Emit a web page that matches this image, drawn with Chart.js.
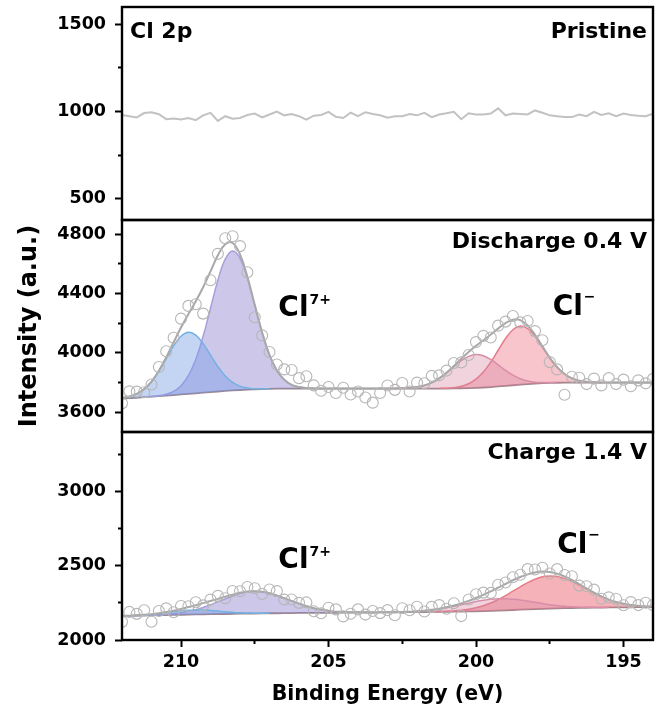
<!DOCTYPE html>
<html>
<head>
<meta charset="utf-8">
<script src="https://cdn.jsdelivr.net/npm/chart.js@4.4.1/dist/chart.umd.min.js"></script>
<style>
  body { margin: 0; background: #fff; }
  #wrap { position: relative; width: 655px; height: 713px; }
  #wrap canvas { position: absolute; left: 0; top: 0; }
</style>
</head>
<body>
<div id="wrap">
  <canvas id="pristineChart" width="655" height="713"></canvas>
  <canvas id="dischargeChart" width="655" height="713"></canvas>
  <canvas id="chargeChart" width="655" height="713"></canvas>
</div>
<script>
// binding energy grid (eV), every trace is sampled on it
const energy = [
  212, 211.75, 211.5, 211.25, 211, 210.75, 210.5, 210.25, 210, 209.75, 209.5, 209.25,
  209, 208.75, 208.5, 208.25, 208, 207.75, 207.5, 207.25, 207, 206.75, 206.5, 206.25,
  206, 205.75, 205.5, 205.25, 205, 204.75, 204.5, 204.25, 204, 203.75, 203.5, 203.25,
  203, 202.75, 202.5, 202.25, 202, 201.75, 201.5, 201.25, 201, 200.75, 200.5, 200.25,
  200, 199.75, 199.5, 199.25, 199, 198.75, 198.5, 198.25, 198, 197.75, 197.5, 197.25,
  197, 196.75, 196.5, 196.25, 196, 195.75, 195.5, 195.25, 195, 194.75, 194.5, 194.25,
  194
];

// Pristine
const pristine = [
  980, 973, 966, 991, 996, 984, 956, 960, 954, 963, 950, 978,
  992, 946, 973, 958, 963, 980, 988, 966, 983, 1000, 978, 986,
  973, 953, 976, 980, 998, 970, 963, 993, 973, 996, 986, 978,
  964, 973, 973, 986, 978, 992, 968, 983, 990, 998, 956, 990,
  983, 983, 988, 1018, 978, 988, 986, 983, 1006, 993, 978, 973,
  968, 968, 983, 973, 998, 980, 990, 973, 988, 980, 976, 973,
  988
];

// Discharge 0.4 V
const disRaw = [
  3660, 3741, 3739, 3735, 3787, 3905, 4011, 4102, 4231, 4317, 4328, 4265,
  4490, 4668, 4773, 4786, 4720, 4544, 4240, 4118, 4006, 3922, 3889, 3885,
  3830, 3843, 3781, 3745, 3770, 3730, 3765, 3720, 3740, 3700, 3665, 3730,
  3780, 3751, 3797, 3740, 3800, 3796, 3845, 3849, 3881, 3932, 3936, 3986,
  4073, 4115, 4104, 4184, 4211, 4249, 4206, 4215, 4147, 4085, 3938, 3889,
  3718, 3839, 3833, 3790, 3827, 3781, 3830, 3790, 3820, 3775, 3815, 3795,
  3825
];
const disEnv = [
  3696, 3706, 3724, 3756, 3807, 3880, 3971, 4072, 4171, 4262, 4348, 4443,
  4550, 4658, 4733, 4741, 4664, 4514, 4324, 4138, 3986, 3882, 3819, 3785,
  3770, 3763, 3761, 3760, 3760, 3760, 3760, 3760, 3760, 3760, 3760, 3760,
  3760, 3761, 3762, 3765, 3770, 3781, 3800, 3829, 3866, 3912, 3961, 4006,
  4048, 4085, 4124, 4164, 4201, 4224, 4221, 4185, 4122, 4045, 3968, 3904,
  3858, 3829, 3813, 3805, 3802, 3801, 3800, 3800, 3800, 3800, 3800, 3800,
  3800
];
const disBg = [
  3692, 3695, 3698, 3702, 3705, 3709, 3712, 3716, 3720, 3724, 3728, 3732,
  3736, 3740, 3744, 3747, 3750, 3753, 3755, 3757, 3758, 3759, 3760, 3760,
  3760, 3760, 3760, 3760, 3760, 3760, 3760, 3760, 3760, 3760, 3760, 3760,
  3760, 3760, 3760, 3760, 3760, 3760, 3760, 3760, 3760, 3761, 3762, 3763,
  3765, 3767, 3770, 3774, 3778, 3782, 3786, 3790, 3793, 3796, 3798, 3799,
  3800, 3800, 3800, 3800, 3800, 3800, 3800, 3800, 3800, 3800, 3800, 3800,
  3800
];
// fitted components: values + first energy of each
const disCl7a = [3696, 3706, 3724, 3756, 3806, 3877, 3961, 4047, 4112, 4139, 4120, 4063,
  3985, 3908, 3845, 3801, 3776, 3764, 3759, 3758, 3758];
const disCl7aFrom = 212;
const disCl7b = [3702, 3706, 3712, 3722, 3741, 3779, 3847, 3956, 4112, 4301, 4490, 4632,
  4687, 4638, 4503, 4320, 4137, 3986, 3882, 3819, 3785, 3770, 3763, 3761, 3760];
const disCl7bFrom = 211.25;
const disClA = [3761, 3762, 3765, 3770, 3781, 3800, 3828, 3864, 3907, 3948, 3977, 3990,
  3981, 3956, 3920, 3882, 3850, 3826, 3811, 3803, 3801, 3800, 3800];
const disClAFrom = 202.75;
const disClB = [3761, 3762, 3766, 3775, 3792, 3823, 3871, 3938, 4018, 4097, 4156, 4181,
  4164, 4112, 4040, 3966, 3903, 3858, 3829, 3813, 3805, 3802, 3801];
const disClBFrom = 201.25;

// Charge 1.4 V
const chaRaw = [
  2122, 2189, 2176, 2200, 2123, 2195, 2213, 2187, 2229, 2227, 2254, 2233,
  2272, 2297, 2281, 2330, 2328, 2357, 2348, 2310, 2340, 2329, 2272, 2273,
  2250, 2253, 2194, 2180, 2217, 2206, 2159, 2177, 2206, 2171, 2195, 2181,
  2201, 2167, 2214, 2200, 2224, 2192, 2223, 2235, 2210, 2247, 2161, 2273,
  2308, 2319, 2317, 2372, 2387, 2422, 2439, 2477, 2475, 2486, 2448, 2477,
  2438, 2429, 2366, 2362, 2339, 2278, 2287, 2276, 2234, 2255, 2235, 2251,
  2235
];
const chaEnv = [
  2162, 2164, 2166, 2170, 2173, 2180, 2188, 2197, 2209, 2222, 2234, 2248,
  2262, 2277, 2291, 2305, 2318, 2327, 2328, 2325, 2315, 2299, 2282, 2263,
  2245, 2228, 2214, 2205, 2197, 2191, 2189, 2187, 2186, 2186, 2185, 2186,
  2186, 2187, 2189, 2190, 2194, 2197, 2203, 2210, 2220, 2232, 2246, 2263,
  2283, 2304, 2327, 2352, 2377, 2402, 2424, 2442, 2455, 2461, 2458, 2447,
  2428, 2404, 2376, 2347, 2319, 2293, 2272, 2256, 2244, 2235, 2230, 2226,
  2225
];
const chaBg = [
  2162, 2163, 2164, 2165, 2166, 2167, 2168, 2169, 2170, 2171, 2172, 2173,
  2174, 2175, 2175, 2176, 2177, 2178, 2178, 2179, 2180, 2180, 2181, 2181,
  2182, 2182, 2182, 2183, 2183, 2183, 2184, 2184, 2185, 2185, 2185, 2186,
  2186, 2186, 2187, 2187, 2188, 2188, 2189, 2189, 2190, 2191, 2191, 2192,
  2193, 2194, 2196, 2198, 2200, 2202, 2204, 2206, 2208, 2210, 2211, 2213,
  2214, 2215, 2216, 2217, 2218, 2218, 2219, 2219, 2220, 2220, 2221, 2221,
  2222
];
const chaCl7a = [2162, 2164, 2166, 2169, 2172, 2177, 2183, 2189, 2195, 2200, 2202, 2202,
  2199, 2195, 2190, 2186, 2183, 2182, 2180, 2180, 2180];
const chaCl7aFrom = 212;
const chaCl7b = [2163, 2164, 2166, 2167, 2170, 2173, 2177, 2184, 2193, 2204, 2219, 2237,
  2257, 2276, 2295, 2312, 2323, 2326, 2324, 2315, 2299, 2282, 2263, 2245, 2228, 2214,
  2205, 2197, 2191, 2189, 2187, 2186, 2186, 2185];
const chaCl7bFrom = 211.75;
const chaClA = [2186, 2187, 2189, 2190, 2194, 2197, 2202, 2208, 2217, 2227, 2237, 2248,
  2259, 2267, 2274, 2278, 2278, 2275, 2270, 2262, 2254, 2246, 2238, 2232, 2227, 2224,
  2222, 2220, 2220, 2219, 2219];
const chaClAFrom = 203;
const chaClB = [2190, 2191, 2193, 2196, 2200, 2207, 2217, 2231, 2249, 2272, 2299, 2329,
  2358, 2386, 2409, 2425, 2431, 2428, 2415, 2395, 2370, 2344, 2317, 2292, 2272, 2256,
  2244, 2235, 2230, 2226, 2225];
const chaClBFrom = 201.5;

// axis ticks (every other one carries a label)
const xTicks = [195, 197.5, 200, 202.5, 205, 207.5, 210];
const xLabelStep = 5;
const yPristine = { min: 377, max: 1600, ticks: [500, 750, 1000, 1250, 1500], label: 500 };
const yDischarge = { min: 3467, max: 4896, ticks: [3600, 3800, 4000, 4200, 4400, 4600, 4800], label: 400 };
const yCharge = { min: 2000, max: 3400, ticks: [2000, 2250, 2500, 2750, 3000, 3250], label: 500 };

// ---- styles ----
const FONT = 'DejaVu Sans';
const tickFont = { family: FONT, size: 17.5, weight: 'bold' };
const blue = { line: '#72b2e2', fill: 'rgba(115,155,228,0.42)' };
const purple = { line: '#a79fdc', fill: 'rgba(135,125,205,0.42)' };
const rose = { line: '#d98ea8', fill: 'rgba(215,130,160,0.35)' };
const red = { line: '#e57d89', fill: 'rgba(235,110,125,0.40)' };
const redStrong = { line: '#e57d89', fill: 'rgba(235,110,120,0.52)' };

function pts(values, fromE) {
  const start = fromE === undefined ? 0 : energy.indexOf(fromE);
  return values.map((v, i) => ({ x: energy[start + i], y: v }));
}

function fitDatasets(raw, env, bg, peaks) {
  const ds = [];
  const bgIndex = 2 + peaks.length;
  ds.push({ data: pts(raw), showLine: false, pointRadius: 5.5, pointBorderWidth: 1.1,
    pointBorderColor: '#b6b6b6', pointBackgroundColor: 'rgba(255,255,255,0)' });
  ds.push({ data: pts(env), borderColor: '#a8a8a8', borderWidth: 2, pointRadius: 0, tension: 0.4 });
  peaks.forEach(p => {
    ds.push({ data: pts(p.values, p.from), borderColor: p.style.line, backgroundColor: p.style.fill,
      fill: bgIndex, borderWidth: 1.5, pointRadius: 0, tension: 0.4 });
  });
  ds.push({ data: pts(bg), borderColor: '#9b8990', borderWidth: 1.8, pointRadius: 0, tension: 0 });
  return ds;
}

// frame, panel captions and species labels
const panelText = {
  id: 'panelText',
  afterDatasetsDraw(chart, args, opts) {
    const ctx = chart.ctx, a = chart.chartArea;
    ctx.save();
    ctx.strokeStyle = '#000';
    ctx.lineWidth = 2.4;
    ctx.strokeRect(a.left, a.top, a.right - a.left, a.bottom - a.top);
    ctx.fillStyle = '#000';
    ctx.textBaseline = 'alphabetic';
    ctx.font = 'bold 22px "' + FONT + '"';
    (opts.corner || []).forEach(l => {
      ctx.textAlign = l.side;
      ctx.fillText(l.text, l.side === 'left' ? a.left + 8 : a.right - 6, a.top + l.dy);
    });
    ctx.textAlign = 'left';
    (opts.species || []).forEach(l => {
      const x = chart.scales.x.getPixelForValue(l.e);
      const y = chart.scales.y.getPixelForValue(l.v);
      ctx.font = 'bold 28px "' + FONT + '"';
      ctx.fillText('Cl', x, y);
      const w = ctx.measureText('Cl').width;
      ctx.font = 'bold 14px "' + FONT + '"';
      ctx.fillText(l.sup, x + w + 1, y - (l.sup === '7+' ? 12 : 14));
    });
    ctx.restore();
  }
};

function xAxis(show) {
  return {
    type: 'linear', min: 194, max: 212, reverse: true, display: show,
    border: { display: false },
    grid: {
      drawOnChartArea: false, tickLength: 7, tickWidth: 2, tickColor: '#000',
      tickBorderDash: c => (c.tick && c.tick.value % xLabelStep === 0) ? [] : [4, 10]
    },
    ticks: {
      autoSkip: false, maxRotation: 0, padding: 5, color: '#000', font: tickFont,
      callback: v => v % xLabelStep === 0 ? v : ''
    },
    afterBuildTicks: s => { s.ticks = xTicks.map(v => ({ value: v })); },
    title: { display: true, text: 'Binding Energy (eV)', color: '#000',
      font: { family: FONT, size: 20.5, weight: 'bold' }, padding: { top: 0, bottom: 6 } },
    afterFit: s => { if (show) { s.height = 73; } s.paddingLeft = 0; s.paddingRight = 0; }
  };
}

function yAxis(r, title) {
  const major = c => c.tick && c.tick.value % r.label === 0;
  return {
    type: 'linear', position: 'left', min: r.min, max: r.max,
    border: { display: false },
    grid: {
      drawOnChartArea: false, tickLength: 7, tickWidth: 2, tickColor: '#000',
      tickBorderDash: c => major(c) ? [] : [4, 3],
      tickBorderDashOffset: c => major(c) ? 0 : 4
    },
    ticks: {
      autoSkip: false, padding: 9, color: '#000', font: tickFont,
      callback: v => v % r.label === 0 ? v : ''
    },
    afterBuildTicks: s => { s.ticks = r.ticks.map(v => ({ value: v })); },
    title: title ? { display: true, text: title, color: '#000', font: { family: FONT, size: 24, weight: 'bold' },
      padding: { top: 15, bottom: 0 } } : { display: false },
    afterFit: s => { s.width = 122; s.paddingTop = 0; s.paddingBottom = 0; }
  };
}

function panelChart(canvasId, datasets, yRange, pad, showX, yTitle, text) {
  return new Chart(document.getElementById(canvasId), {
    type: 'line',
    data: { datasets: datasets },
    options: {
      responsive: false,
      devicePixelRatio: 1,
      animation: false,
      events: [],
      layout: { autoPadding: false, padding: { top: pad.top, bottom: pad.bottom, left: 0, right: 2 } },
      plugins: { legend: { display: false }, tooltip: { enabled: false }, panelText: text },
      scales: { x: xAxis(showX), y: yAxis(yRange, yTitle) }
    },
    plugins: [panelText]
  });
}

const pristineChart = panelChart('pristineChart',
  [{ data: pts(pristine), borderColor: '#c2c2c2', borderWidth: 2, pointRadius: 0, tension: 0 }],
  yPristine, { top: 7, bottom: 493 }, false, null,
  { corner: [{ text: 'Cl 2p', side: 'left', dy: 31 }, { text: 'Pristine', side: 'right', dy: 31 }] });

const dischargeChart = panelChart('dischargeChart',
  fitDatasets(disRaw, disEnv, disBg, [
    { values: disCl7a, from: disCl7aFrom, style: blue },
    { values: disCl7b, from: disCl7bFrom, style: purple },
    { values: disClA, from: disClAFrom, style: rose },
    { values: disClB, from: disClBFrom, style: red }
  ]),
  yDischarge, { top: 220, bottom: 281 }, false, 'Intensity (a.u.)',
  { corner: [{ text: 'Discharge 0.4 V', side: 'right', dy: 28 }],
    species: [{ e: 206.7, v: 4250, sup: '7+' }, { e: 197.4, v: 4255, sup: '\u2212' }] });

const chargeChart = panelChart('chargeChart',
  fitDatasets(chaRaw, chaEnv, chaBg, [
    { values: chaCl7a, from: chaCl7aFrom, style: blue },
    { values: chaCl7b, from: chaCl7bFrom, style: purple },
    { values: chaClA, from: chaClAFrom, style: rose },
    { values: chaClB, from: chaClBFrom, style: redStrong }
  ]),
  yCharge, { top: 432, bottom: 0 }, true, null,
  { corner: [{ text: 'Charge 1.4 V', side: 'right', dy: 27 }],
    species: [{ e: 206.7, v: 2485, sup: '7+' }, { e: 197.25, v: 2586, sup: '\u2212' }] });
</script>
</body>
</html>
